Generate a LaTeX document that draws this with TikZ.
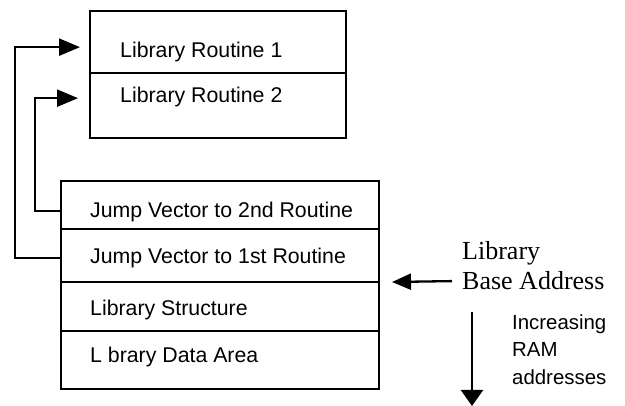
\documentclass[tikz,border=0pt]{standalone}
\usepackage{fontspec}
\setmainfont{Liberation Serif}
\setsansfont{Liberation Sans}
\usetikzlibrary{arrows.meta}
\tikzset{
  row/.style={draw, line width=2.3pt, minimum width=#1, inner sep=0pt},
  lbl/.style={font=\sffamily\fontsize{21.3}{24}\selectfont, anchor=west, inner sep=0pt},
  side/.style={font=\rmfamily\fontsize{26}{30}\selectfont, anchor=base west, inner sep=0pt},
  note/.style={font=\sffamily\fontsize{20.4}{24}\selectfont, anchor=base west, inner sep=0pt},
  link/.style={line width=2.3pt, -{Triangle[length=21pt,width=17pt]}},
  ptr/.style={line width=2.3pt, -{Triangle[length=19pt,width=16pt]}},
  down/.style={line width=2.3pt, -{Triangle[length=16pt,width=22pt]}}
}
\begin{document}
\begin{tikzpicture}[x=1pt,y=-1pt]
\useasboundingbox (0,0) rectangle (625,406);
% top box
\node[row=256pt, minimum height=62pt, anchor=north west] (r1) at (89,10) {};
\node[row=256pt, minimum height=65pt, anchor=north west] (r2) at (89,72) {};
\node[lbl] (t1) at (120,52) {Library Routine 1};
\node[lbl] (t2) at (120,97) {Library Routine 2};
% bottom box
\node[row=318pt, minimum height=48pt, anchor=north west] (j2) at (60,180) {};
\node[row=318pt, minimum height=53pt, anchor=north west] (j1) at (60,228) {};
\node[row=318pt, minimum height=49pt, anchor=north west] (ls) at (60,281) {};
\node[row=318pt, minimum height=58pt, anchor=north west] (ld) at (60,330) {};
\node[lbl] (tj2) at (90,212) {Jump Vector to 2nd Routine};
\node[lbl] (tj1) at (90,258) {Jump Vector to 1st Routine};
\node[lbl] (tls) at (90,310) {Library Structure};
\node[lbl] (tld) at (90,357) {L brary Data Area};
% connectors
\draw[link] ([yshift=-2.5pt]j1.west) -- ++(-45,0) |- ([xshift=-9pt,yshift=-5pt]r1.west);
\draw[link] ([yshift=-6pt]j2.west) -- ++(-25,0) |- ([xshift=-11pt,yshift=7.5pt]r2.west);
% base address
\node[side] (lib) at (462,260) {Library};
\node[side] (base) at (462,290) {Base Address};
\coordinate (bt) at (392,282);
\draw[ptr] ([xshift=-10pt]base.west) -- (bt);
% increasing
\coordinate (ds) at (472,312);
\coordinate (de) at (472,406);
\draw[down] (ds) -- (de);
\node[note] (n1) at (512,330) {Increasing};
\node[note] (n2) at (512,357) {RAM};
\node[note] (n3) at (512,385) {addresses};
\end{tikzpicture}
\end{document}
